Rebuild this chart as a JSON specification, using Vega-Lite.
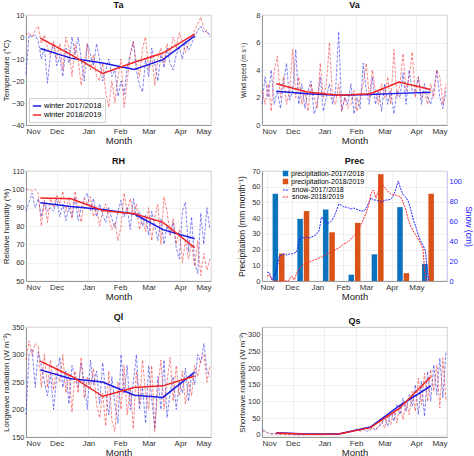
{
"$schema":"https://vega.github.io/schema/vega-lite/v6.json",
"padding":{"left":1,"top":0,"right":0,"bottom":0},
"background":"white",
"columns":2,
"spacing":{"row":11,"column":23},
"resolve":{"scale":{"color":"independent","fill":"independent","stroke":"independent"},"legend":{"color":"independent","fill":"independent","stroke":"independent"}},
"config":{
 "font":"Liberation Sans",
 "view":{"stroke":"#b5b5b5","strokeWidth":0.8},
 "axis":{"labelFontSize":7.5,"labelColor":"#333","titleFontSize":8,"titleFontWeight":"normal","titleColor":"#222","gridColor":"#e6e6e6","gridWidth":0.6,"domainColor":"#888","domainWidth":0.8,"ticks":false,"labelPadding":2},
 "axisX":{"titleFontSize":9.5,"titlePadding":0,"labelFontSize":8},
 "axisY":{"minExtent":13,"maxExtent":13,"titlePadding":3,"labelOverlap":false},
 "title":{"fontSize":9,"fontWeight":"bold","offset":1,"frame":"group","color":"#111"}
},
"datasets":{
"daily":[
{"date":"2017-11-01","w":"winter 2017/2018","Ta":-17,"Va":1.5,"RH":88,"Ql":190,"Qs":15},
{"date":"2017-11-04","w":"winter 2017/2018","Ta":1,"Va":3.5,"RH":93,"Ql":300,"Qs":12},
{"date":"2017-11-07","w":"winter 2017/2018","Ta":0,"Va":2,"RH":98,"Ql":310,"Qs":5},
{"date":"2017-11-10","w":"winter 2017/2018","Ta":1,"Va":4,"RH":90,"Ql":240,"Qs":3},
{"date":"2017-11-13","w":"winter 2017/2018","Ta":-2,"Va":1.5,"RH":95,"Ql":305,"Qs":4},
{"date":"2017-11-16","w":"winter 2017/2018","Ta":-10,"Va":2.5,"RH":85,"Ql":280,"Qs":3},
{"date":"2017-11-19","w":"winter 2017/2018","Ta":-5,"Va":1.2,"RH":93,"Ql":250,"Qs":2},
{"date":"2017-11-22","w":"winter 2017/2018","Ta":-21,"Va":3,"RH":88,"Ql":225,"Qs":2},
{"date":"2017-11-25","w":"winter 2017/2018","Ta":-8,"Va":4.5,"RH":90,"Ql":265,"Qs":1},
{"date":"2017-11-28","w":"winter 2017/2018","Ta":-3,"Va":1.8,"RH":88,"Ql":200,"Qs":1},
{"date":"2017-12-01","w":"winter 2017/2018","Ta":-13,"Va":2.5,"RH":95,"Ql":260,"Qs":1},
{"date":"2017-12-04","w":"winter 2017/2018","Ta":-9,"Va":5.5,"RH":85,"Ql":295,"Qs":0},
{"date":"2017-12-07","w":"winter 2017/2018","Ta":-18,"Va":1.5,"RH":92,"Ql":240,"Qs":0},
{"date":"2017-12-10","w":"winter 2017/2018","Ta":-5,"Va":3,"RH":83,"Ql":270,"Qs":0},
{"date":"2017-12-13","w":"winter 2017/2018","Ta":-12,"Va":1.2,"RH":90,"Ql":210,"Qs":0},
{"date":"2017-12-16","w":"winter 2017/2018","Ta":0,"Va":2.5,"RH":85,"Ql":280,"Qs":0},
{"date":"2017-12-19","w":"winter 2017/2018","Ta":-8,"Va":3.2,"RH":96,"Ql":260,"Qs":0},
{"date":"2017-12-22","w":"winter 2017/2018","Ta":0,"Va":0.8,"RH":83,"Ql":240,"Qs":0},
{"date":"2017-12-25","w":"winter 2017/2018","Ta":-10,"Va":1.5,"RH":90,"Ql":285,"Qs":0},
{"date":"2017-12-28","w":"winter 2017/2018","Ta":-20,"Va":3.5,"RH":95,"Ql":250,"Qs":0},
{"date":"2017-12-31","w":"winter 2017/2018","Ta":-3,"Va":1,"RH":98,"Ql":200,"Qs":0},
{"date":"2018-01-03","w":"winter 2017/2018","Ta":-8,"Va":2,"RH":88,"Ql":290,"Qs":1},
{"date":"2018-01-06","w":"winter 2017/2018","Ta":-13,"Va":3,"RH":95,"Ql":245,"Qs":2},
{"date":"2018-01-09","w":"winter 2017/2018","Ta":-3,"Va":1.5,"RH":85,"Ql":270,"Qs":2},
{"date":"2018-01-12","w":"winter 2017/2018","Ta":-10,"Va":2.5,"RH":92,"Ql":210,"Qs":3},
{"date":"2018-01-15","w":"winter 2017/2018","Ta":-20,"Va":6.8,"RH":86,"Ql":285,"Qs":3},
{"date":"2018-01-18","w":"winter 2017/2018","Ta":-15,"Va":1,"RH":82,"Ql":230,"Qs":4},
{"date":"2018-01-21","w":"winter 2017/2018","Ta":-10,"Va":2,"RH":90,"Ql":190,"Qs":6},
{"date":"2018-01-24","w":"winter 2017/2018","Ta":-18,"Va":1.5,"RH":84,"Ql":260,"Qs":8},
{"date":"2018-01-27","w":"winter 2017/2018","Ta":-15,"Va":3,"RH":79,"Ql":210,"Qs":10},
{"date":"2018-01-30","w":"winter 2017/2018","Ta":-27,"Va":0.8,"RH":88,"Ql":175,"Qs":12},
{"date":"2018-02-02","w":"winter 2017/2018","Ta":-20,"Va":2,"RH":94,"Ql":300,"Qs":15},
{"date":"2018-02-05","w":"winter 2017/2018","Ta":-26,"Va":1.2,"RH":85,"Ql":230,"Qs":12},
{"date":"2018-02-08","w":"winter 2017/2018","Ta":-14,"Va":4.5,"RH":90,"Ql":280,"Qs":18},
{"date":"2018-02-11","w":"winter 2017/2018","Ta":-8,"Va":2.5,"RH":78,"Ql":200,"Qs":8},
{"date":"2018-02-14","w":"winter 2017/2018","Ta":-2,"Va":1.5,"RH":95,"Ql":250,"Qs":15},
{"date":"2018-02-17","w":"winter 2017/2018","Ta":-15,"Va":3.5,"RH":85,"Ql":300,"Qs":22},
{"date":"2018-02-20","w":"winter 2017/2018","Ta":-22,"Va":1.5,"RH":88,"Ql":200,"Qs":12},
{"date":"2018-02-23","w":"winter 2017/2018","Ta":-25,"Va":2.5,"RH":80,"Ql":240,"Qs":25},
{"date":"2018-02-26","w":"winter 2017/2018","Ta":-10,"Va":1,"RH":86,"Ql":175,"Qs":30},
{"date":"2018-03-01","w":"winter 2017/2018","Ta":-18,"Va":3,"RH":75,"Ql":280,"Qs":55},
{"date":"2018-03-04","w":"winter 2017/2018","Ta":-5,"Va":1.5,"RH":88,"Ql":220,"Qs":25},
{"date":"2018-03-07","w":"winter 2017/2018","Ta":-12,"Va":2.5,"RH":80,"Ql":165,"Qs":70},
{"date":"2018-03-10","w":"winter 2017/2018","Ta":-20,"Va":0.8,"RH":72,"Ql":260,"Qs":40},
{"date":"2018-03-13","w":"winter 2017/2018","Ta":-8,"Va":2.5,"RH":84,"Ql":200,"Qs":90},
{"date":"2018-03-16","w":"winter 2017/2018","Ta":-14,"Va":2,"RH":70,"Ql":290,"Qs":60},
{"date":"2018-03-19","w":"winter 2017/2018","Ta":-5,"Va":3.8,"RH":80,"Ql":185,"Qs":110},
{"date":"2018-03-22","w":"winter 2017/2018","Ta":-12,"Va":1.5,"RH":75,"Ql":230,"Qs":70},
{"date":"2018-03-25","w":"winter 2017/2018","Ta":-15,"Va":4,"RH":82,"Ql":260,"Qs":120},
{"date":"2018-03-28","w":"winter 2017/2018","Ta":-8,"Va":2.5,"RH":68,"Ql":200,"Qs":85},
{"date":"2018-03-31","w":"winter 2017/2018","Ta":-5,"Va":2.5,"RH":62,"Ql":250,"Qs":150},
{"date":"2018-04-03","w":"winter 2017/2018","Ta":-10,"Va":3.5,"RH":88,"Ql":230,"Qs":60},
{"date":"2018-04-06","w":"winter 2017/2018","Ta":-2,"Va":1.5,"RH":93,"Ql":275,"Qs":160},
{"date":"2018-04-09","w":"winter 2017/2018","Ta":-6,"Va":3,"RH":66,"Ql":215,"Qs":55},
{"date":"2018-04-12","w":"winter 2017/2018","Ta":-3,"Va":2,"RH":85,"Ql":265,"Qs":190},
{"date":"2018-04-15","w":"winter 2017/2018","Ta":0,"Va":1.5,"RH":60,"Ql":245,"Qs":100},
{"date":"2018-04-18","w":"winter 2017/2018","Ta":3,"Va":2.5,"RH":54,"Ql":300,"Qs":210},
{"date":"2018-04-21","w":"winter 2017/2018","Ta":5,"Va":4,"RH":87,"Ql":285,"Qs":120},
{"date":"2018-04-24","w":"winter 2017/2018","Ta":2,"Va":2,"RH":70,"Ql":320,"Qs":230},
{"date":"2018-04-27","w":"winter 2017/2018","Ta":3,"Va":1.2,"RH":90,"Ql":270,"Qs":110},
{"date":"2018-04-30","w":"winter 2017/2018","Ta":0,"Va":2.5,"RH":78,"Ql":260,"Qs":250},
{"date":"2017-11-01","w":"winter 2018/2019","Ta":1,"Va":2.5,"RH":100,"Ql":290,"Qs":8},
{"date":"2017-11-04","w":"winter 2018/2019","Ta":2,"Va":1.5,"RH":100,"Ql":325,"Qs":10},
{"date":"2017-11-07","w":"winter 2018/2019","Ta":0,"Va":3,"RH":99,"Ql":300,"Qs":4},
{"date":"2017-11-10","w":"winter 2018/2019","Ta":3,"Va":1,"RH":100,"Ql":320,"Qs":2},
{"date":"2017-11-13","w":"winter 2018/2019","Ta":5,"Va":4,"RH":98,"Ql":315,"Qs":2},
{"date":"2017-11-16","w":"winter 2018/2019","Ta":-3,"Va":5,"RH":80,"Ql":240,"Qs":1},
{"date":"2017-11-19","w":"winter 2018/2019","Ta":1,"Va":2,"RH":94,"Ql":300,"Qs":1},
{"date":"2017-11-22","w":"winter 2018/2019","Ta":-5,"Va":3.5,"RH":82,"Ql":240,"Qs":1},
{"date":"2017-11-25","w":"winter 2018/2019","Ta":-8,"Va":1.5,"RH":95,"Ql":290,"Qs":0},
{"date":"2017-11-28","w":"winter 2018/2019","Ta":-2,"Va":2.5,"RH":90,"Ql":235,"Qs":0},
{"date":"2017-12-01","w":"winter 2018/2019","Ta":-10,"Va":5.5,"RH":97,"Ql":280,"Qs":0},
{"date":"2017-12-04","w":"winter 2018/2019","Ta":-3,"Va":2,"RH":92,"Ql":250,"Qs":0},
{"date":"2017-12-07","w":"winter 2018/2019","Ta":-15,"Va":3.5,"RH":99,"Ql":300,"Qs":0},
{"date":"2017-12-10","w":"winter 2018/2019","Ta":0,"Va":1.5,"RH":88,"Ql":230,"Qs":0},
{"date":"2017-12-13","w":"winter 2018/2019","Ta":-5,"Va":2.5,"RH":96,"Ql":265,"Qs":0},
{"date":"2017-12-16","w":"winter 2018/2019","Ta":-18,"Va":1,"RH":84,"Ql":195,"Qs":0},
{"date":"2017-12-19","w":"winter 2018/2019","Ta":-3,"Va":3,"RH":99,"Ql":270,"Qs":0},
{"date":"2017-12-22","w":"winter 2018/2019","Ta":-10,"Va":2,"RH":90,"Ql":230,"Qs":0},
{"date":"2017-12-25","w":"winter 2018/2019","Ta":-22,"Va":1.2,"RH":82,"Ql":295,"Qs":0},
{"date":"2017-12-28","w":"winter 2018/2019","Ta":-12,"Va":4.5,"RH":95,"Ql":220,"Qs":0},
{"date":"2017-12-31","w":"winter 2018/2019","Ta":-3,"Va":2,"RH":92,"Ql":260,"Qs":0},
{"date":"2018-01-03","w":"winter 2018/2019","Ta":-15,"Va":3,"RH":96,"Ql":240,"Qs":0},
{"date":"2018-01-06","w":"winter 2018/2019","Ta":-8,"Va":6,"RH":85,"Ql":275,"Qs":1},
{"date":"2018-01-09","w":"winter 2018/2019","Ta":-18,"Va":2,"RH":90,"Ql":210,"Qs":1},
{"date":"2018-01-12","w":"winter 2018/2019","Ta":-20,"Va":1.5,"RH":80,"Ql":185,"Qs":2},
{"date":"2018-01-15","w":"winter 2018/2019","Ta":-12,"Va":3,"RH":88,"Ql":230,"Qs":2},
{"date":"2018-01-18","w":"winter 2018/2019","Ta":-25,"Va":1,"RH":92,"Ql":170,"Qs":3},
{"date":"2018-01-21","w":"winter 2018/2019","Ta":-32,"Va":2,"RH":85,"Ql":270,"Qs":4},
{"date":"2018-01-24","w":"winter 2018/2019","Ta":-20,"Va":1.2,"RH":78,"Ql":180,"Qs":6},
{"date":"2018-01-27","w":"winter 2018/2019","Ta":-30,"Va":1.5,"RH":82,"Ql":160,"Qs":8},
{"date":"2018-01-30","w":"winter 2018/2019","Ta":-18,"Va":2.5,"RH":72,"Ql":250,"Qs":12},
{"date":"2018-02-02","w":"winter 2018/2019","Ta":-10,"Va":1,"RH":80,"Ql":200,"Qs":18},
{"date":"2018-02-05","w":"winter 2018/2019","Ta":-32,"Va":2,"RH":98,"Ql":280,"Qs":10},
{"date":"2018-02-08","w":"winter 2018/2019","Ta":-20,"Va":3,"RH":88,"Ql":190,"Qs":15},
{"date":"2018-02-11","w":"winter 2018/2019","Ta":-8,"Va":4.5,"RH":95,"Ql":240,"Qs":20},
{"date":"2018-02-14","w":"winter 2018/2019","Ta":-2,"Va":2,"RH":86,"Ql":165,"Qs":12},
{"date":"2018-02-17","w":"winter 2018/2019","Ta":-12,"Va":4,"RH":92,"Ql":270,"Qs":22},
{"date":"2018-02-20","w":"winter 2018/2019","Ta":-18,"Va":2.5,"RH":78,"Ql":210,"Qs":15},
{"date":"2018-02-23","w":"winter 2018/2019","Ta":-5,"Va":1.5,"RH":85,"Ql":290,"Qs":25},
{"date":"2018-02-26","w":"winter 2018/2019","Ta":0,"Va":3,"RH":77,"Ql":230,"Qs":40},
{"date":"2018-03-01","w":"winter 2018/2019","Ta":-15,"Va":2,"RH":90,"Ql":200,"Qs":20},
{"date":"2018-03-04","w":"winter 2018/2019","Ta":-8,"Va":3.5,"RH":72,"Ql":280,"Qs":60},
{"date":"2018-03-07","w":"winter 2018/2019","Ta":-22,"Va":1.5,"RH":85,"Ql":160,"Qs":30},
{"date":"2018-03-10","w":"winter 2018/2019","Ta":-10,"Va":5.5,"RH":92,"Ql":240,"Qs":75},
{"date":"2018-03-13","w":"winter 2018/2019","Ta":-5,"Va":2,"RH":70,"Ql":290,"Qs":35},
{"date":"2018-03-16","w":"winter 2018/2019","Ta":-12,"Va":3,"RH":96,"Ql":200,"Qs":90},
{"date":"2018-03-19","w":"winter 2018/2019","Ta":-3,"Va":5.2,"RH":88,"Ql":250,"Qs":45},
{"date":"2018-03-22","w":"winter 2018/2019","Ta":-8,"Va":2.5,"RH":75,"Ql":295,"Qs":100},
{"date":"2018-03-25","w":"winter 2018/2019","Ta":0,"Va":3.5,"RH":84,"Ql":215,"Qs":60},
{"date":"2018-03-28","w":"winter 2018/2019","Ta":-5,"Va":5.3,"RH":70,"Ql":280,"Qs":130},
{"date":"2018-03-31","w":"winter 2018/2019","Ta":2,"Va":2,"RH":78,"Ql":225,"Qs":70},
{"date":"2018-04-03","w":"winter 2018/2019","Ta":-2,"Va":3.5,"RH":60,"Ql":270,"Qs":170},
{"date":"2018-04-06","w":"winter 2018/2019","Ta":-7,"Va":2,"RH":72,"Ql":210,"Qs":90},
{"date":"2018-04-09","w":"winter 2018/2019","Ta":-3,"Va":2.5,"RH":62,"Ql":250,"Qs":185},
{"date":"2018-04-12","w":"winter 2018/2019","Ta":0,"Va":1.5,"RH":70,"Ql":225,"Qs":100},
{"date":"2018-04-15","w":"winter 2018/2019","Ta":3,"Va":3,"RH":58,"Ql":280,"Qs":195},
{"date":"2018-04-18","w":"winter 2018/2019","Ta":6,"Va":2,"RH":72,"Ql":260,"Qs":130},
{"date":"2018-04-21","w":"winter 2018/2019","Ta":9,"Va":4,"RH":53,"Ql":290,"Qs":210},
{"date":"2018-04-24","w":"winter 2018/2019","Ta":4,"Va":3.5,"RH":65,"Ql":300,"Qs":80},
{"date":"2018-04-27","w":"winter 2018/2019","Ta":2,"Va":1.5,"RH":56,"Ql":250,"Qs":230},
{"date":"2018-04-30","w":"winter 2018/2019","Ta":1,"Va":3,"RH":62,"Ql":280,"Qs":100}
],
"trend":[
{"date":"2017-11-15","w":"winter 2017/2018","Ta":-5.2,"Va":2.46,"RH":92.7,"Ql":272,"Qs":6},
{"date":"2017-12-15","w":"winter 2017/2018","Ta":-9.6,"Va":2.27,"RH":90.6,"Ql":256,"Qs":2},
{"date":"2018-01-15","w":"winter 2017/2018","Ta":-11.8,"Va":2.17,"RH":89,"Ql":250,"Qs":2},
{"date":"2018-02-15","w":"winter 2017/2018","Ta":-14.8,"Va":2.22,"RH":86.5,"Ql":226,"Qs":23},
{"date":"2018-03-15","w":"winter 2017/2018","Ta":-10.3,"Va":2.3,"RH":78,"Ql":222,"Qs":86},
{"date":"2018-04-15","w":"winter 2017/2018","Ta":0.5,"Va":2.39,"RH":73,"Ql":268,"Qs":146},
{"date":"2017-11-15","w":"winter 2018/2019","Ta":-0.5,"Va":3.0,"RH":95.3,"Ql":288,"Qs":5},
{"date":"2017-12-15","w":"winter 2018/2019","Ta":-8,"Va":2.4,"RH":94.9,"Ql":261,"Qs":1},
{"date":"2018-01-15","w":"winter 2018/2019","Ta":-16.6,"Va":2.17,"RH":88.5,"Ql":224,"Qs":2},
{"date":"2018-02-15","w":"winter 2018/2019","Ta":-11.5,"Va":2.27,"RH":86.7,"Ql":240,"Qs":21},
{"date":"2018-03-15","w":"winter 2018/2019","Ta":-7.3,"Va":3.13,"RH":82,"Ql":243,"Qs":78},
{"date":"2018-04-15","w":"winter 2018/2019","Ta":1.3,"Va":2.58,"RH":68.2,"Ql":261,"Qs":173}
],
"prec":[
{"date":"2017-11-15","series":"precipitation-2017/2018","prec":55.5},
{"date":"2017-12-15","series":"precipitation-2017/2018","prec":39.5},
{"date":"2018-01-15","series":"precipitation-2017/2018","prec":45.5},
{"date":"2018-02-15","series":"precipitation-2017/2018","prec":4},
{"date":"2018-03-15","series":"precipitation-2017/2018","prec":17},
{"date":"2018-04-15","series":"precipitation-2017/2018","prec":47},
{"date":"2018-05-15","series":"precipitation-2017/2018","prec":11},
{"date":"2017-11-15","series":"precipitation-2018/2019","prec":17.5},
{"date":"2017-12-15","series":"precipitation-2018/2019","prec":44.5},
{"date":"2018-01-15","series":"precipitation-2018/2019","prec":31},
{"date":"2018-02-15","series":"precipitation-2018/2019","prec":37},
{"date":"2018-03-15","series":"precipitation-2018/2019","prec":68},
{"date":"2018-04-15","series":"precipitation-2018/2019","prec":5},
{"date":"2018-05-15","series":"precipitation-2018/2019","prec":55.5}
],
"snow":[
{"date":"2017-11-01","series":"snow-2017/2018","snow":9},
{"date":"2017-11-04","series":"snow-2017/2018","snow":8},
{"date":"2017-11-07","series":"snow-2017/2018","snow":1},
{"date":"2017-11-10","series":"snow-2017/2018","snow":5},
{"date":"2017-11-13","series":"snow-2017/2018","snow":12},
{"date":"2017-11-16","series":"snow-2017/2018","snow":25},
{"date":"2017-11-19","series":"snow-2017/2018","snow":26},
{"date":"2017-11-22","series":"snow-2017/2018","snow":27},
{"date":"2017-11-25","series":"snow-2017/2018","snow":26},
{"date":"2017-11-28","series":"snow-2017/2018","snow":27},
{"date":"2017-12-01","series":"snow-2017/2018","snow":27},
{"date":"2017-12-04","series":"snow-2017/2018","snow":28},
{"date":"2017-12-07","series":"snow-2017/2018","snow":29},
{"date":"2017-12-10","series":"snow-2017/2018","snow":42},
{"date":"2017-12-13","series":"snow-2017/2018","snow":44},
{"date":"2017-12-16","series":"snow-2017/2018","snow":43},
{"date":"2017-12-19","series":"snow-2017/2018","snow":44},
{"date":"2017-12-22","series":"snow-2017/2018","snow":43},
{"date":"2017-12-25","series":"snow-2017/2018","snow":44},
{"date":"2017-12-28","series":"snow-2017/2018","snow":45},
{"date":"2017-12-31","series":"snow-2017/2018","snow":47},
{"date":"2018-01-03","series":"snow-2017/2018","snow":50},
{"date":"2018-01-06","series":"snow-2017/2018","snow":64},
{"date":"2018-01-09","series":"snow-2017/2018","snow":62},
{"date":"2018-01-12","series":"snow-2017/2018","snow":58},
{"date":"2018-01-15","series":"snow-2017/2018","snow":58},
{"date":"2018-01-18","series":"snow-2017/2018","snow":60},
{"date":"2018-01-21","series":"snow-2017/2018","snow":64},
{"date":"2018-01-24","series":"snow-2017/2018","snow":70},
{"date":"2018-01-27","series":"snow-2017/2018","snow":77},
{"date":"2018-01-30","series":"snow-2017/2018","snow":76},
{"date":"2018-02-02","series":"snow-2017/2018","snow":74},
{"date":"2018-02-05","series":"snow-2017/2018","snow":74},
{"date":"2018-02-08","series":"snow-2017/2018","snow":73},
{"date":"2018-02-11","series":"snow-2017/2018","snow":72},
{"date":"2018-02-14","series":"snow-2017/2018","snow":73},
{"date":"2018-02-17","series":"snow-2017/2018","snow":72},
{"date":"2018-02-20","series":"snow-2017/2018","snow":71},
{"date":"2018-02-23","series":"snow-2017/2018","snow":70},
{"date":"2018-02-26","series":"snow-2017/2018","snow":70},
{"date":"2018-03-01","series":"snow-2017/2018","snow":72},
{"date":"2018-03-04","series":"snow-2017/2018","snow":78},
{"date":"2018-03-07","series":"snow-2017/2018","snow":83},
{"date":"2018-03-10","series":"snow-2017/2018","snow":81},
{"date":"2018-03-13","series":"snow-2017/2018","snow":81},
{"date":"2018-03-16","series":"snow-2017/2018","snow":80},
{"date":"2018-03-19","series":"snow-2017/2018","snow":79},
{"date":"2018-03-22","series":"snow-2017/2018","snow":80},
{"date":"2018-03-25","series":"snow-2017/2018","snow":81},
{"date":"2018-03-28","series":"snow-2017/2018","snow":81},
{"date":"2018-03-31","series":"snow-2017/2018","snow":82},
{"date":"2018-04-03","series":"snow-2017/2018","snow":85},
{"date":"2018-04-06","series":"snow-2017/2018","snow":92},
{"date":"2018-04-09","series":"snow-2017/2018","snow":100},
{"date":"2018-04-12","series":"snow-2017/2018","snow":92},
{"date":"2018-04-15","series":"snow-2017/2018","snow":86},
{"date":"2018-04-18","series":"snow-2017/2018","snow":84},
{"date":"2018-04-21","series":"snow-2017/2018","snow":80},
{"date":"2018-04-24","series":"snow-2017/2018","snow":72},
{"date":"2018-04-27","series":"snow-2017/2018","snow":62},
{"date":"2018-04-30","series":"snow-2017/2018","snow":55},
{"date":"2018-05-03","series":"snow-2017/2018","snow":47},
{"date":"2018-05-06","series":"snow-2017/2018","snow":40},
{"date":"2018-05-09","series":"snow-2017/2018","snow":36},
{"date":"2018-05-12","series":"snow-2017/2018","snow":30},
{"date":"2018-05-14","series":"snow-2017/2018","snow":12},
{"date":"2018-05-16","series":"snow-2017/2018","snow":0},
{"date":"2017-11-01","series":"snow-2018/2019","snow":5},
{"date":"2017-11-04","series":"snow-2018/2019","snow":6},
{"date":"2017-11-07","series":"snow-2018/2019","snow":2},
{"date":"2017-11-10","series":"snow-2018/2019","snow":0},
{"date":"2017-11-13","series":"snow-2018/2019","snow":0},
{"date":"2017-11-16","series":"snow-2018/2019","snow":0},
{"date":"2017-11-19","series":"snow-2018/2019","snow":0},
{"date":"2017-11-22","series":"snow-2018/2019","snow":0},
{"date":"2017-11-25","series":"snow-2018/2019","snow":0},
{"date":"2017-11-28","series":"snow-2018/2019","snow":1},
{"date":"2017-12-01","series":"snow-2018/2019","snow":5},
{"date":"2017-12-04","series":"snow-2018/2019","snow":1},
{"date":"2017-12-07","series":"snow-2018/2019","snow":8},
{"date":"2017-12-10","series":"snow-2018/2019","snow":12},
{"date":"2017-12-13","series":"snow-2018/2019","snow":15},
{"date":"2017-12-16","series":"snow-2018/2019","snow":17},
{"date":"2017-12-19","series":"snow-2018/2019","snow":18},
{"date":"2017-12-22","series":"snow-2018/2019","snow":19},
{"date":"2017-12-25","series":"snow-2018/2019","snow":20},
{"date":"2017-12-28","series":"snow-2018/2019","snow":21},
{"date":"2017-12-31","series":"snow-2018/2019","snow":22},
{"date":"2018-01-03","series":"snow-2018/2019","snow":23},
{"date":"2018-01-06","series":"snow-2018/2019","snow":24},
{"date":"2018-01-09","series":"snow-2018/2019","snow":25},
{"date":"2018-01-12","series":"snow-2018/2019","snow":27},
{"date":"2018-01-15","series":"snow-2018/2019","snow":28},
{"date":"2018-01-18","series":"snow-2018/2019","snow":29},
{"date":"2018-01-21","series":"snow-2018/2019","snow":30},
{"date":"2018-01-24","series":"snow-2018/2019","snow":32},
{"date":"2018-01-27","series":"snow-2018/2019","snow":33},
{"date":"2018-01-30","series":"snow-2018/2019","snow":35},
{"date":"2018-02-02","series":"snow-2018/2019","snow":37},
{"date":"2018-02-05","series":"snow-2018/2019","snow":38},
{"date":"2018-02-08","series":"snow-2018/2019","snow":40},
{"date":"2018-02-11","series":"snow-2018/2019","snow":42},
{"date":"2018-02-14","series":"snow-2018/2019","snow":45},
{"date":"2018-02-17","series":"snow-2018/2019","snow":47},
{"date":"2018-02-20","series":"snow-2018/2019","snow":52},
{"date":"2018-02-23","series":"snow-2018/2019","snow":56},
{"date":"2018-02-26","series":"snow-2018/2019","snow":62},
{"date":"2018-03-01","series":"snow-2018/2019","snow":68},
{"date":"2018-03-04","series":"snow-2018/2019","snow":75},
{"date":"2018-03-07","series":"snow-2018/2019","snow":88},
{"date":"2018-03-10","series":"snow-2018/2019","snow":91},
{"date":"2018-03-13","series":"snow-2018/2019","snow":83},
{"date":"2018-03-16","series":"snow-2018/2019","snow":90},
{"date":"2018-03-19","series":"snow-2018/2019","snow":100},
{"date":"2018-03-22","series":"snow-2018/2019","snow":95},
{"date":"2018-03-25","series":"snow-2018/2019","snow":92},
{"date":"2018-03-28","series":"snow-2018/2019","snow":89},
{"date":"2018-03-31","series":"snow-2018/2019","snow":87},
{"date":"2018-04-03","series":"snow-2018/2019","snow":86},
{"date":"2018-04-06","series":"snow-2018/2019","snow":86},
{"date":"2018-04-09","series":"snow-2018/2019","snow":85},
{"date":"2018-04-12","series":"snow-2018/2019","snow":84},
{"date":"2018-04-15","series":"snow-2018/2019","snow":78},
{"date":"2018-04-18","series":"snow-2018/2019","snow":72},
{"date":"2018-04-21","series":"snow-2018/2019","snow":62},
{"date":"2018-04-24","series":"snow-2018/2019","snow":55},
{"date":"2018-04-27","series":"snow-2018/2019","snow":50},
{"date":"2018-04-30","series":"snow-2018/2019","snow":46},
{"date":"2018-05-03","series":"snow-2018/2019","snow":42},
{"date":"2018-05-06","series":"snow-2018/2019","snow":38},
{"date":"2018-05-09","series":"snow-2018/2019","snow":32},
{"date":"2018-05-11","series":"snow-2018/2019","snow":10},
{"date":"2018-05-13","series":"snow-2018/2019","snow":0}
]
},
"concat":[
{
 "width":185,"height":110,"title":"Ta",
 "encoding":{"x":{"field":"date","type":"temporal","scale":{"type":"utc","domain":[{"year":2017,"month":11,"date":1,"utc":true},{"year":2018,"month":5,"date":1,"utc":true}]},"axis":{"title":"Month","format":"%b","values":[{"year":2017,"month":11,"date":1,"utc":true},{"year":2017,"month":12,"date":1,"utc":true},{"year":2018,"month":1,"date":1,"utc":true},{"year":2018,"month":2,"date":1,"utc":true},{"year":2018,"month":3,"date":1,"utc":true},{"year":2018,"month":4,"date":1,"utc":true},{"year":2018,"month":5,"date":1,"utc":true}]}}},
 "layer":[
  {"data":{"name":"daily"},"mark":{"type":"line","strokeWidth":0.9,"strokeDash":[3,1.5],"opacity":0.6},
   "encoding":{"y":{"field":"Ta","type":"quantitative","scale":{"domain":[-40,10],"nice":false},"axis":{"title":"Temperature (°C)","values":[-40,-30,-20,-10,0,10],"labelOverlap":false}},
    "color":{"field":"w","type":"nominal","scale":{"domain":["winter 2017/2018","winter 2018/2019"],"range":["#1a1ae6","#f02424"]},"legend":{"title":null,"orient":"bottom-left","offset":3,"labelFontSize":7.5,"symbolType":"stroke","symbolStrokeWidth":1.5,"symbolSize":70,"symbolDash":[1,0],"symbolOpacity":1,"fillColor":"white","strokeColor":"#d0d0d0","padding":3,"rowPadding":0,"labelOffset":2}}}},
  {"data":{"name":"trend"},"mark":{"type":"line","strokeWidth":1.5},"encoding":{"y":{"field":"Ta","type":"quantitative","scale":{"domain":[-40,10],"nice":false},"axis":{"title":"Temperature (°C)","values":[-40,-30,-20,-10,0,10],"labelOverlap":false}},"color":{"field":"w","type":"nominal"}}},
  {"data":{"values":[{}]},"mark":{"type":"text","text":"a","fontWeight":"bold","fontSize":9.5,"align":"left","baseline":"top","dy":2},"encoding":{"x":{"datum":{"year":2017,"month":11,"date":4,"utc":true},"type":"temporal"},"y":{"datum":10,"type":"quantitative","scale":{"domain":[-40,10],"nice":false},"axis":{"title":"Temperature (°C)","values":[-40,-30,-20,-10,0,10],"labelOverlap":false}}}}
 ]
},
{
 "width":185,"height":110,"title":"Va",
 "encoding":{"x":{"field":"date","type":"temporal","scale":{"type":"utc","domain":[{"year":2017,"month":11,"date":1,"utc":true},{"year":2018,"month":5,"date":1,"utc":true}]},"axis":{"title":"Month","format":"%b","values":[{"year":2017,"month":11,"date":1,"utc":true},{"year":2017,"month":12,"date":1,"utc":true},{"year":2018,"month":1,"date":1,"utc":true},{"year":2018,"month":2,"date":1,"utc":true},{"year":2018,"month":3,"date":1,"utc":true},{"year":2018,"month":4,"date":1,"utc":true},{"year":2018,"month":5,"date":1,"utc":true}]}}},
 "layer":[
  {"data":{"name":"daily"},"mark":{"type":"line","strokeWidth":0.9,"strokeDash":[3,1.5],"opacity":0.6},
   "encoding":{"y":{"field":"Va","type":"quantitative","scale":{"domain":[0,8],"nice":false},"axis":{"title":"Wind speed (m s⁻¹)","titleFontSize":6.5,"values":[0,2,4,6,8],"labelOverlap":false}},
    "color":{"field":"w","type":"nominal","scale":{"domain":["winter 2017/2018","winter 2018/2019"],"range":["#1a1ae6","#f02424"]},"legend":null}}},
  {"data":{"name":"trend"},"mark":{"type":"line","strokeWidth":1.5},"encoding":{"y":{"field":"Va","type":"quantitative","scale":{"domain":[0,8],"nice":false},"axis":{"title":"Wind speed (m s⁻¹)","titleFontSize":6.5,"values":[0,2,4,6,8],"labelOverlap":false}},"color":{"field":"w","type":"nominal"}}},
  {"data":{"values":[{}]},"mark":{"type":"text","text":"b","fontWeight":"bold","fontSize":9.5,"align":"left","baseline":"top","dy":2},"encoding":{"x":{"datum":{"year":2017,"month":11,"date":4,"utc":true},"type":"temporal"},"y":{"datum":8,"type":"quantitative","scale":{"domain":[0,8],"nice":false},"axis":{"title":"Wind speed (m s⁻¹)","titleFontSize":6.5,"values":[0,2,4,6,8],"labelOverlap":false}}}}
 ]
},
{
 "width":185,"height":110,"title":"RH",
 "encoding":{"x":{"field":"date","type":"temporal","scale":{"type":"utc","domain":[{"year":2017,"month":11,"date":1,"utc":true},{"year":2018,"month":5,"date":1,"utc":true}]},"axis":{"title":"Month","format":"%b","values":[{"year":2017,"month":11,"date":1,"utc":true},{"year":2017,"month":12,"date":1,"utc":true},{"year":2018,"month":1,"date":1,"utc":true},{"year":2018,"month":2,"date":1,"utc":true},{"year":2018,"month":3,"date":1,"utc":true},{"year":2018,"month":4,"date":1,"utc":true},{"year":2018,"month":5,"date":1,"utc":true}]}}},
 "layer":[
  {"data":{"name":"daily"},"mark":{"type":"line","strokeWidth":0.9,"strokeDash":[3,1.5],"opacity":0.6},
   "encoding":{"y":{"field":"RH","type":"quantitative","scale":{"domain":[50,110],"nice":false},"axis":{"title":"Relative humidity (%)","values":[50,60,70,80,90,100,110],"labelOverlap":false}},
    "color":{"field":"w","type":"nominal","scale":{"domain":["winter 2017/2018","winter 2018/2019"],"range":["#1a1ae6","#f02424"]},"legend":null}}},
  {"data":{"name":"trend"},"mark":{"type":"line","strokeWidth":1.5},"encoding":{"y":{"field":"RH","type":"quantitative","scale":{"domain":[50,110],"nice":false},"axis":{"title":"Relative humidity (%)","values":[50,60,70,80,90,100,110],"labelOverlap":false}},"color":{"field":"w","type":"nominal"}}},
  {"data":{"values":[{}]},"mark":{"type":"text","text":"c","fontWeight":"bold","fontSize":9.5,"align":"left","baseline":"top","dy":2},"encoding":{"x":{"datum":{"year":2017,"month":11,"date":4,"utc":true},"type":"temporal"},"y":{"datum":110,"type":"quantitative","scale":{"domain":[50,110],"nice":false},"axis":{"title":"Relative humidity (%)","values":[50,60,70,80,90,100,110],"labelOverlap":false}}}}
 ]
},
{
 "width":185,"height":110,"title":"Prec",
 "encoding":{"x":{"field":"date","type":"temporal","scale":{"type":"utc","domain":[{"year":2017,"month":11,"date":1,"utc":true},{"year":2018,"month":6,"date":1,"utc":true}]},"axis":{"title":"Month","format":"%b","values":[{"year":2017,"month":11,"date":1,"utc":true},{"year":2017,"month":12,"date":1,"utc":true},{"year":2018,"month":1,"date":1,"utc":true},{"year":2018,"month":2,"date":1,"utc":true},{"year":2018,"month":3,"date":1,"utc":true},{"year":2018,"month":4,"date":1,"utc":true},{"year":2018,"month":5,"date":1,"utc":true}]}}},
 "layer":[
  {"layer":[
   {"data":{"name":"prec"},"transform":[{"filter":"datum.series == 'precipitation-2017/2018'"}],"mark":{"type":"bar","width":5.5,"xOffset":-3.2},
    "encoding":{"y":{"field":"prec","type":"quantitative","scale":{"domain":[0,70],"nice":false},"axis":{"title":"Precipitation (mm month⁻¹)","titleFontSize":8.5,"values":[0,10,20,30,40,50,60,70],"labelOverlap":false}},
     "fill":{"field":"series","type":"nominal","scale":{"domain":["precipitation-2017/2018","precipitation-2018/2019"],"range":["#0b72bd","#d95319"]},"legend":{"title":null,"orient":"none","legendX":20,"legendY":-1,"labelFontSize":7,"symbolType":"square","symbolSize":30,"rowPadding":0,"padding":0,"labelOffset":2}}}},
   {"data":{"name":"prec"},"transform":[{"filter":"datum.series == 'precipitation-2018/2019'"}],"mark":{"type":"bar","width":5.5,"xOffset":3.2},
    "encoding":{"y":{"field":"prec","type":"quantitative","scale":{"domain":[0,70],"nice":false},"axis":{"title":"Precipitation (mm month⁻¹)","titleFontSize":8.5,"values":[0,10,20,30,40,50,60,70],"labelOverlap":false}},"fill":{"field":"series","type":"nominal"}}},
   {"data":{"values":[{}]},"mark":{"type":"text","text":"d","fontWeight":"bold","fontSize":9.5,"align":"left","baseline":"top","dy":3},"encoding":{"x":{"datum":{"year":2017,"month":11,"date":9,"utc":true},"type":"temporal"},"y":{"datum":70,"type":"quantitative","scale":{"domain":[0,70],"nice":false},"axis":{"title":"Precipitation (mm month⁻¹)","titleFontSize":8.5,"values":[0,10,20,30,40,50,60,70],"labelOverlap":false}}}}
  ]},
  {"data":{"name":"snow"},"mark":{"type":"line","strokeWidth":1,"strokeDash":[2,1]},
   "encoding":{"y":{"field":"snow","type":"quantitative","scale":{"domain":[0,110],"nice":false},"axis":{"orient":"right","title":"Snow (cm)","titleFontSize":8.5,"values":[0,20,40,60,80,100],"labelColor":"#2222ff","titleColor":"#2222ff","grid":false,"domainColor":"#c8c8ff"}},
    "stroke":{"field":"series","type":"nominal","scale":{"domain":["snow-2017/2018","snow-2018/2019"],"range":["#2424ff","#ff2a2a"]},"legend":{"title":null,"orient":"none","legendX":20,"legendY":15,"labelFontSize":7,"symbolType":"stroke","symbolDash":[2,1],"symbolStrokeWidth":1.2,"symbolSize":40,"rowPadding":0,"padding":0,"labelOffset":2}}}}
 ],
 "resolve":{"scale":{"y":"independent"}}
},
{
 "width":185,"height":110,"title":"Ql",
 "encoding":{"x":{"field":"date","type":"temporal","scale":{"type":"utc","domain":[{"year":2017,"month":11,"date":1,"utc":true},{"year":2018,"month":5,"date":1,"utc":true}]},"axis":{"title":"Month","format":"%b","values":[{"year":2017,"month":11,"date":1,"utc":true},{"year":2017,"month":12,"date":1,"utc":true},{"year":2018,"month":1,"date":1,"utc":true},{"year":2018,"month":2,"date":1,"utc":true},{"year":2018,"month":3,"date":1,"utc":true},{"year":2018,"month":4,"date":1,"utc":true},{"year":2018,"month":5,"date":1,"utc":true}]}}},
 "layer":[
  {"data":{"name":"daily"},"mark":{"type":"line","strokeWidth":0.9,"strokeDash":[3,1.5],"opacity":0.6},
   "encoding":{"y":{"field":"Ql","type":"quantitative","scale":{"domain":[150,350],"nice":false},"axis":{"title":"Longwave radiation (W m⁻²)","values":[150,200,250,300,350],"labelOverlap":false}},
    "color":{"field":"w","type":"nominal","scale":{"domain":["winter 2017/2018","winter 2018/2019"],"range":["#1a1ae6","#f02424"]},"legend":null}}},
  {"data":{"name":"trend"},"mark":{"type":"line","strokeWidth":1.5},"encoding":{"y":{"field":"Ql","type":"quantitative","scale":{"domain":[150,350],"nice":false},"axis":{"title":"Longwave radiation (W m⁻²)","values":[150,200,250,300,350],"labelOverlap":false}},"color":{"field":"w","type":"nominal"}}},
  {"data":{"values":[{}]},"mark":{"type":"text","text":"e","fontWeight":"bold","fontSize":9.5,"align":"left","baseline":"top","dy":2},"encoding":{"x":{"datum":{"year":2017,"month":11,"date":4,"utc":true},"type":"temporal"},"y":{"datum":350,"type":"quantitative","scale":{"domain":[150,350],"nice":false},"axis":{"title":"Longwave radiation (W m⁻²)","values":[150,200,250,300,350],"labelOverlap":false}}}}
 ]
},
{
 "width":185,"height":110,"title":"Qs",
 "encoding":{"x":{"field":"date","type":"temporal","scale":{"type":"utc","domain":[{"year":2017,"month":11,"date":1,"utc":true},{"year":2018,"month":5,"date":1,"utc":true}]},"axis":{"title":"Month","format":"%b","values":[{"year":2017,"month":11,"date":1,"utc":true},{"year":2017,"month":12,"date":1,"utc":true},{"year":2018,"month":1,"date":1,"utc":true},{"year":2018,"month":2,"date":1,"utc":true},{"year":2018,"month":3,"date":1,"utc":true},{"year":2018,"month":4,"date":1,"utc":true},{"year":2018,"month":5,"date":1,"utc":true}]}}},
 "layer":[
  {"data":{"name":"daily"},"mark":{"type":"line","strokeWidth":0.9,"strokeDash":[3,1.5],"opacity":0.6},
   "encoding":{"y":{"field":"Qs","type":"quantitative","scale":{"domain":[-7,323],"nice":false},"axis":{"title":"Shortwave radiation (W m⁻²)","values":[0,50,100,150,200,250,300],"labelOverlap":false}},
    "color":{"field":"w","type":"nominal","scale":{"domain":["winter 2017/2018","winter 2018/2019"],"range":["#1a1ae6","#f02424"]},"legend":null}}},
  {"data":{"name":"trend"},"mark":{"type":"line","strokeWidth":1.5},"encoding":{"y":{"field":"Qs","type":"quantitative","scale":{"domain":[-7,323],"nice":false},"axis":{"title":"Shortwave radiation (W m⁻²)","values":[0,50,100,150,200,250,300],"labelOverlap":false}},"color":{"field":"w","type":"nominal"}}},
  {"data":{"values":[{}]},"mark":{"type":"text","text":"f","fontWeight":"bold","fontSize":9.5,"align":"left","baseline":"top","dy":2},"encoding":{"x":{"datum":{"year":2017,"month":11,"date":4,"utc":true},"type":"temporal"},"y":{"datum":323,"type":"quantitative","scale":{"domain":[-7,323],"nice":false},"axis":{"title":"Shortwave radiation (W m⁻²)","values":[0,50,100,150,200,250,300],"labelOverlap":false}}}}
 ]
}
]
}
